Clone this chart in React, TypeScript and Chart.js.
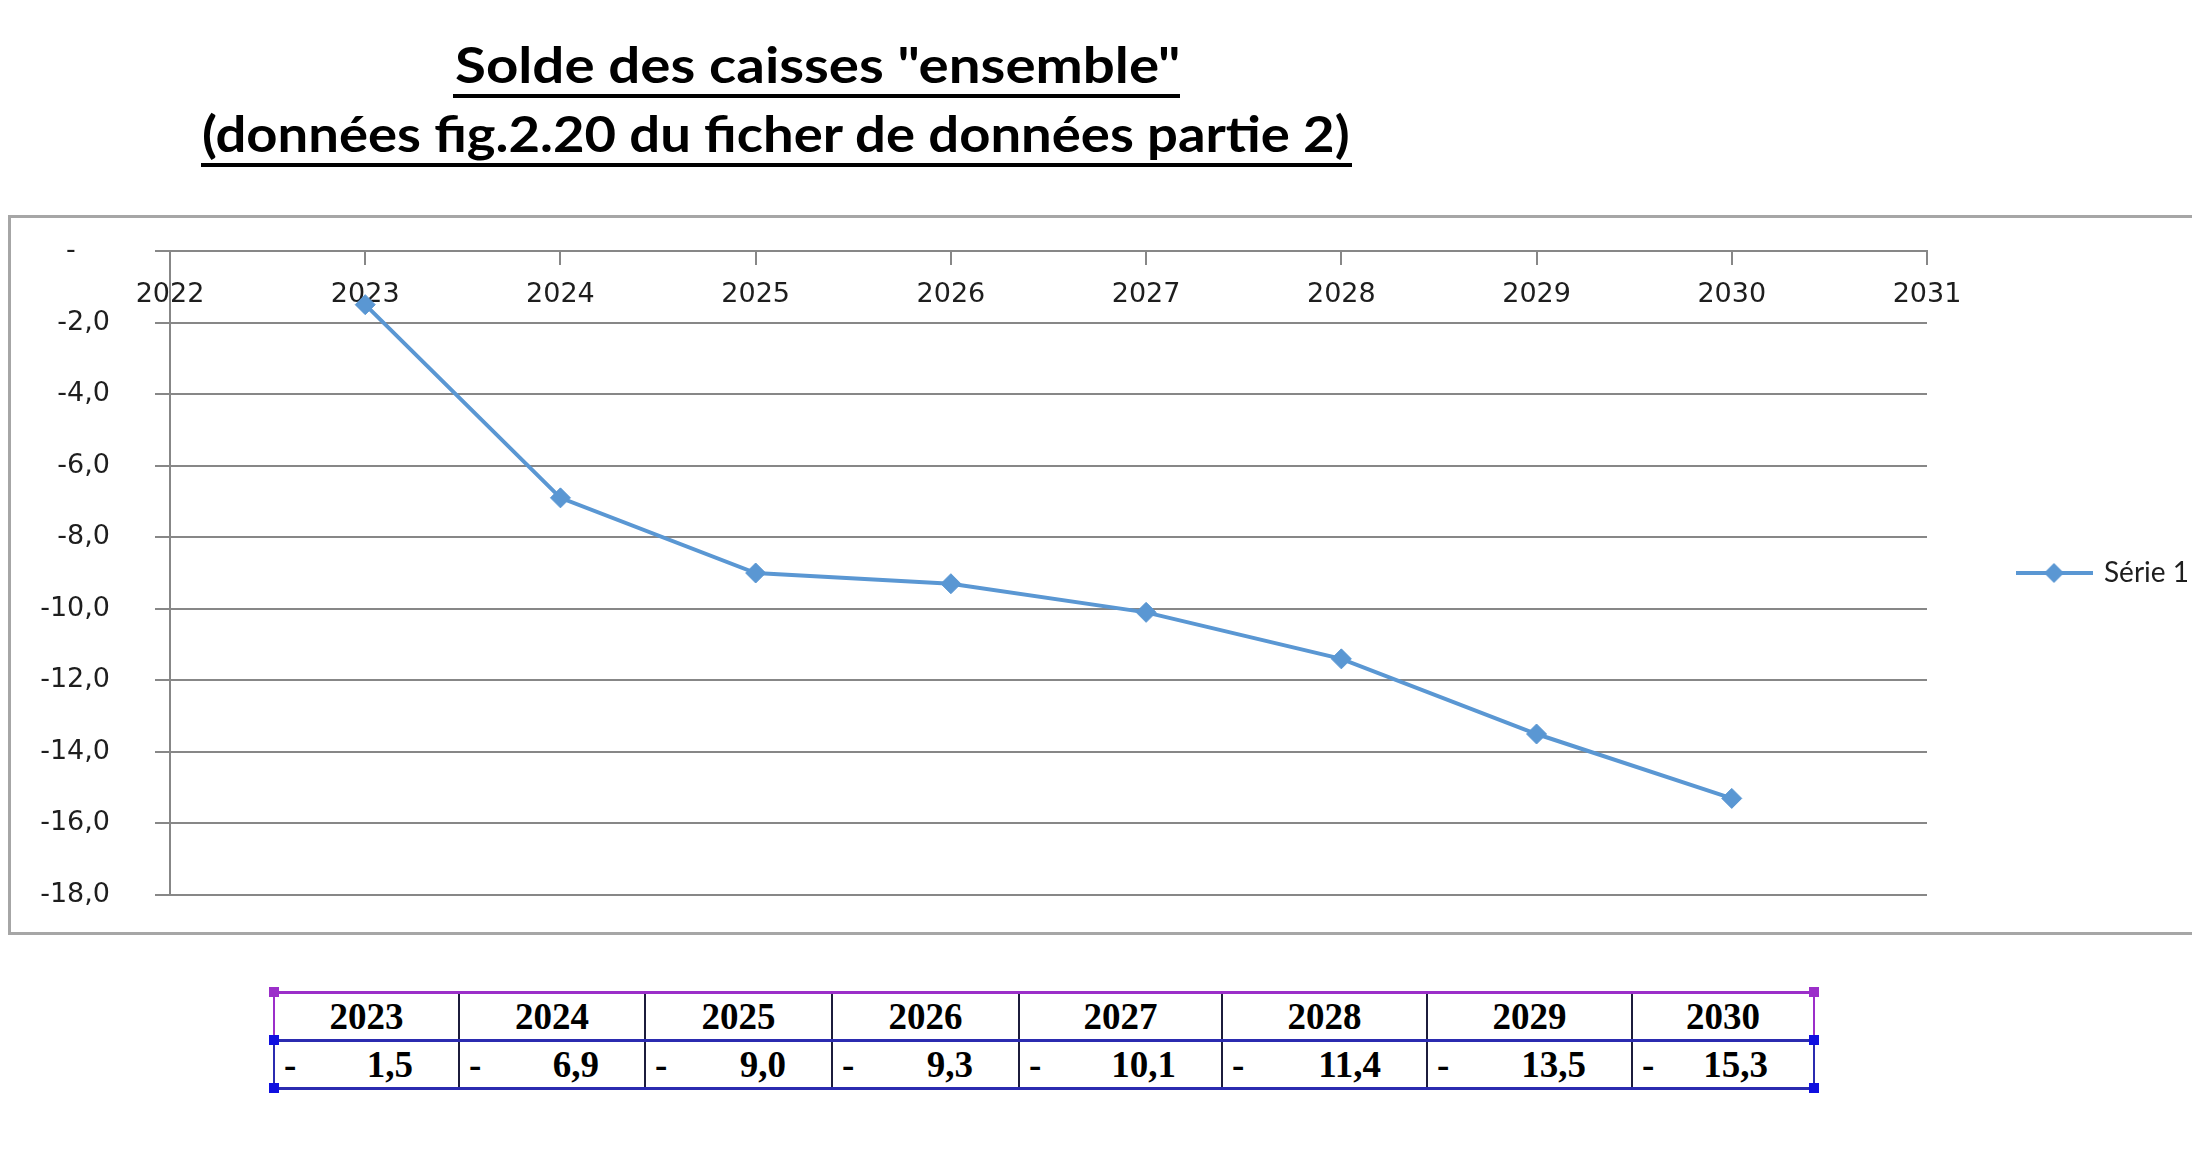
import React, { useEffect, useLayoutEffect, useRef, useState } from 'react';
import { Chart, registerables } from 'chart.js';

Chart.register(...registerables);

// ---- data ----
const years = [2023, 2024, 2025, 2026, 2027, 2028, 2029, 2030];
const soldes = [-1.5, -6.9, -9.0, -9.3, -10.1, -11.4, -13.5, -15.3];
const seriesLabel = 'Série 1';
const titleLines = ['Solde des caisses "ensemble"', '(données fig.2.20 du ficher de données partie 2)'];
const xMin = 2022;
const xMax = 2031;
const yMin = -18;
const yMax = 0;
const yStep = 2;

// ---- styles / layout ----
const LINE = '#5a97d3';
const GRID = '#878787';
const TXT = '#1e1e1e';
const colEdges = [274, 459, 645, 832, 1019, 1222, 1427, 1632, 1814];
const tableTop = 992;
const tableMid = 1040;
const tableBottom = 1088;
const PURPLE = '#9b2fc9';
const BLUE = '#2b2bb0';

const CANVAS_W = 2189;
const CANVAS_H = 714;
const AREA_LEFT = 159;
const AREA_RIGHT = 1916;
const LEGEND_PAD = 91;
const LEGEND_BOX = 72;
const LEGEND_FONT = 28;
const LEGEND_FAMILY = 'Lato, "Noto Sans", sans-serif';

const fmt = (v: number) => v.toFixed(1).replace('.', ',');

function Title() {
  const r1 = useRef<HTMLSpanElement>(null);
  const r2 = useRef<HTMLSpanElement>(null);
  useLayoutEffect(() => {
    const targets = [725, 1148];
    [r1, r2].forEach((r, i) => {
      const el = r.current;
      if (!el) return;
      const w = el.offsetWidth;
      if (w > 0) el.style.transform = `scaleX(${targets[i] / w})`;
    });
  }, []);
  const base: React.CSSProperties = {
    position: 'absolute',
    fontFamily: 'Lato, "Noto Sans", sans-serif',
    fontWeight: 700,
    fontSize: 50,
    lineHeight: '50px',
    whiteSpace: 'nowrap',
    color: '#000',
    transformOrigin: 'left top',
    display: 'inline-block',
  };
  return (
    <>
      <span ref={r1} style={{ ...base, left: 455, top: 39 }}>{titleLines[0]}</span>
      <div style={{ position: 'absolute', left: 453, top: 94, width: 727, height: 4, background: '#000' }} />
      <span ref={r2} style={{ ...base, left: 202, top: 108 }}>{titleLines[1]}</span>
      <div style={{ position: 'absolute', left: 201, top: 163, width: 1151, height: 4, background: '#000' }} />
    </>
  );
}

function LineChart() {
  const ref = useRef<HTMLCanvasElement>(null);
  const [err, setErr] = useState('');
  useEffect(() => {
    let chart: Chart | null = null;
    try {
      const legendImg = document.createElement('canvas');
      legendImg.width = 77;
      legendImg.height = 22;
      const g = legendImg.getContext('2d')!;
      g.strokeStyle = LINE;
      g.lineWidth = 4;
      g.beginPath();
      g.moveTo(0, 11);
      g.lineTo(77, 11);
      g.stroke();
      g.fillStyle = LINE;
      g.beginPath();
      g.moveTo(38.5, 1);
      g.lineTo(48.5, 11);
      g.lineTo(38.5, 21);
      g.lineTo(28.5, 11);
      g.closePath();
      g.fill();

      // legend width as Chart.js computes it: padding + box + font/2 + text + 10
      g.font = `${LEGEND_FONT}px ${LEGEND_FAMILY}`;
      const textW = g.measureText(seriesLabel).width;
      const legendW = LEGEND_PAD + LEGEND_BOX + LEGEND_FONT / 2 + textW + 10;
      const wanted = CANVAS_W - AREA_RIGHT;
      const padRight = Math.max(0, wanted - legendW);

      chart = new Chart(ref.current!, {
        type: 'line',
        data: {
          datasets: [
            {
              label: seriesLabel,
              data: years.map((y, i) => ({ x: y, y: soldes[i] })),
              borderColor: LINE,
              backgroundColor: LINE,
              borderWidth: 4,
              pointStyle: 'rectRot',
              pointRadius: 10,
              pointBorderWidth: 1,
              pointBackgroundColor: LINE,
              pointBorderColor: LINE,
              tension: 0,
            },
          ],
        },
        options: {
          animation: false,
          responsive: false,
          maintainAspectRatio: false,
          devicePixelRatio: 1,
          layout: { padding: { top: 33, bottom: 37, left: 0, right: padRight } },
          plugins: {
            title: { display: false },
            tooltip: { enabled: false },
            legend: {
              position: 'right',
              fullSize: false,
              maxWidth: wanted,
              labels: {
                usePointStyle: true,
                pointStyleWidth: LEGEND_BOX,
                padding: LEGEND_PAD,
                font: { family: LEGEND_FAMILY, size: LEGEND_FONT },
                color: TXT,
                generateLabels: () => [
                  {
                    text: seriesLabel,
                    pointStyle: legendImg as any,
                    fillStyle: LINE,
                    strokeStyle: LINE,
                    lineWidth: 0,
                    hidden: false,
                    datasetIndex: 0,
                    fontColor: TXT,
                  } as any,
                ],
              },
            },
          },
          scales: {
            x: {
              type: 'linear',
              position: { y: 0 } as any,
              min: xMin,
              max: xMax,
              ticks: {
                stepSize: 1,
                callback: (v: any) => String(v),
                padding: 15,
                font: { family: '"DejaVu Sans", sans-serif', size: 27 },
                color: TXT,
              },
              grid: { drawOnChartArea: false, drawTicks: true, tickLength: 13, color: GRID, lineWidth: 2 },
              border: { color: GRID, width: 2 },
            },
            y: {
              type: 'linear',
              min: yMin,
              max: yMax,
              ticks: {
                stepSize: yStep,
                callback: (v: any) => (Number(v) === 0 ? '-    ' : fmt(Number(v))),
                padding: 45,
                font: { family: '"DejaVu Sans", sans-serif', size: 27 },
                color: TXT,
              },
              grid: { color: GRID, lineWidth: 2, tickLength: 15 },
              border: { color: GRID, width: 2 },
              afterFit: (s: any) => {
                s.width = AREA_LEFT;
                s.paddingTop = 0;
                s.paddingBottom = 0;
              },
            },
          },
        } as any,
      });
    } catch (e: any) {
      setErr(String(e && e.stack ? e.stack : e));
    }
    return () => {
      if (chart) chart.destroy();
    };
  }, []);
  return (
    <div
      style={{
        position: 'absolute',
        left: 8,
        top: 215,
        width: 2192,
        height: 720,
        boxSizing: 'border-box',
        borderLeft: '3px solid #a6a6a6',
        borderTop: '3px solid #a6a6a6',
        borderBottom: '3px solid #a6a6a6',
        background: '#fff',
      }}
    >
      <canvas ref={ref} width={CANVAS_W} height={CANVAS_H} style={{ display: 'block', width: CANVAS_W, height: CANVAS_H }} />
      {err ? <pre style={{ position: 'absolute', left: 10, top: 10, color: 'red', fontSize: 20 }}>{err}</pre> : null}
    </div>
  );
}

function DataTable() {
  const font: React.CSSProperties = {
    fontFamily: '"Liberation Serif", "Times New Roman", serif',
    fontWeight: 700,
    fontSize: 37,
    color: '#000',
  };
  const left = colEdges[0];
  const right = colEdges[colEdges.length - 1];
  const els: React.ReactNode[] = [];
  years.forEach((yr, i) => {
    const x0 = colEdges[i];
    const x1 = colEdges[i + 1];
    els.push(
      <div
        key={'h' + i}
        style={{
          ...font,
          position: 'absolute',
          left: x0,
          top: tableTop,
          width: x1 - x0,
          height: tableMid - tableTop,
          display: 'flex',
          alignItems: 'center',
          justifyContent: 'center',
          lineHeight: 1,
        }}
      >
        {yr}
      </div>
    );
    els.push(
      <div
        key={'v' + i}
        style={{
          ...font,
          position: 'absolute',
          left: x0,
          top: tableMid,
          width: x1 - x0,
          height: tableBottom - tableMid,
          display: 'flex',
          alignItems: 'center',
          justifyContent: 'space-between',
          boxSizing: 'border-box',
          paddingLeft: 10,
          paddingRight: 46,
          lineHeight: 1,
        }}
      >
        <span>-</span>
        <span>{fmt(Math.abs(soldes[i]))}</span>
      </div>
    );
    if (i > 0) {
      els.push(
        <div key={'c' + i} style={{ position: 'absolute', left: x0 - 1, top: tableTop, width: 2, height: tableBottom - tableTop, background: '#1c1c3c' }} />
      );
    }
  });
  const handles: Array<[number, number, string]> = [
    [left, tableTop, PURPLE],
    [right, tableTop, PURPLE],
    [left, tableMid, '#1010e0'],
    [right, tableMid, '#1010e0'],
    [left, tableBottom, '#1010e0'],
    [right, tableBottom, '#1010e0'],
  ];
  return (
    <>
      {els}
      <div style={{ position: 'absolute', left, top: tableTop - 1, width: right - left, height: 3, background: PURPLE }} />
      <div style={{ position: 'absolute', left, top: tableMid - 1, width: right - left, height: 3, background: BLUE }} />
      <div style={{ position: 'absolute', left, top: tableBottom - 1, width: right - left, height: 3, background: BLUE }} />
      <div style={{ position: 'absolute', left: left - 1, top: tableTop, width: 2, height: tableMid - tableTop, background: PURPLE }} />
      <div style={{ position: 'absolute', left: right - 1, top: tableTop, width: 2, height: tableMid - tableTop, background: PURPLE }} />
      <div style={{ position: 'absolute', left: left - 1, top: tableMid, width: 2, height: tableBottom - tableMid, background: BLUE }} />
      <div style={{ position: 'absolute', left: right - 1, top: tableMid, width: 2, height: tableBottom - tableMid, background: BLUE }} />
      {handles.map(([x, y, c], k) => (
        <div key={'k' + k} style={{ position: 'absolute', left: x - 5, top: y - 5, width: 10, height: 10, background: c }} />
      ))}
    </>
  );
}

export default function App() {
  return (
    <div style={{ position: 'relative', width: 2200, height: 1151, margin: -8, overflow: 'hidden', background: '#fff' }}>
      <Title />
      <LineChart />
      <DataTable />
    </div>
  );
}
